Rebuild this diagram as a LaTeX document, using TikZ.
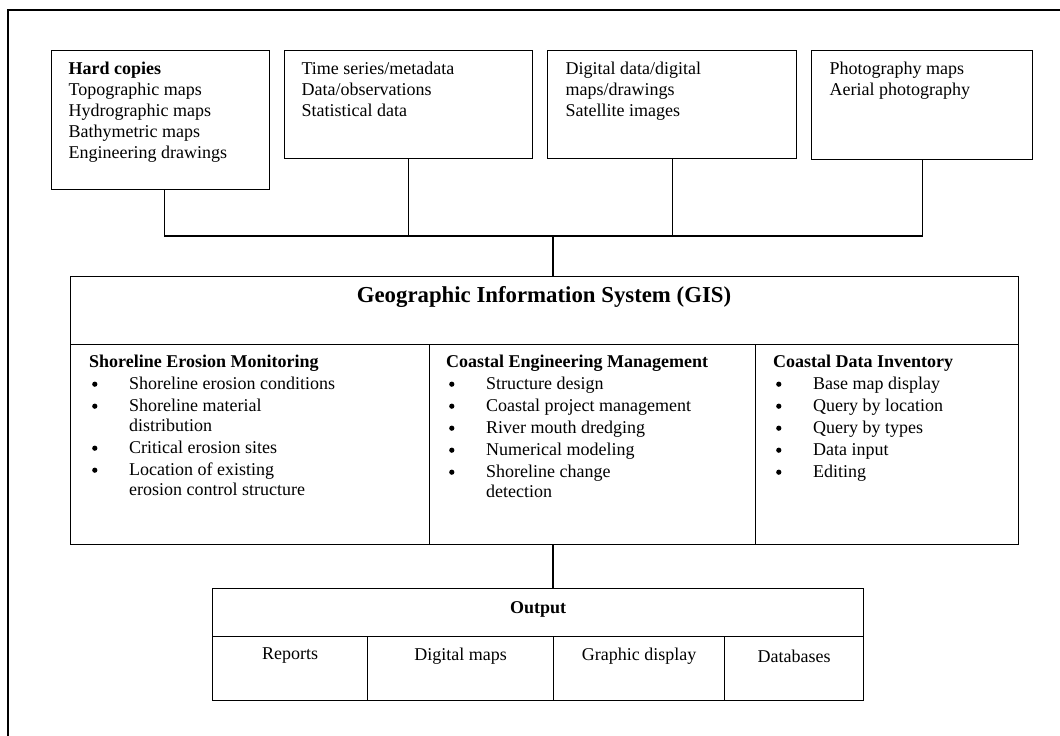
\documentclass[tikz,border=0pt]{standalone}
\usepackage{fontspec}
\setmainfont{Liberation Serif}
\usetikzlibrary{positioning,calc}
\newcommand{\bul}{\hspace*{3pt}\makebox[37pt][l]{\tikz[baseline=0pt]\fill (2.7pt,5.5pt) circle (2.6pt);}}
\newcommand{\ind}{\hspace*{40pt}}

\begin{document}
\begin{tikzpicture}[x=1pt,y=-1pt,line width=1.1pt,
  box/.style={draw,anchor=north west,inner sep=0pt},
  txt/.style={anchor=north west,align=left,inner sep=0pt,font=\fontsize{18}{21}\selectfont},
  coltxt/.style={txt,font=\fontsize{18}{20}\selectfont},
  lbl/.style={inner sep=0pt,font=\fontsize{18}{21}\selectfont}]
\useasboundingbox (0,0) rectangle (1060,736);
% frame
\draw[line width=1.6pt] (8,736) -- (8,10) -- (1060,10);
% data sources
\node[box,minimum width=218pt,minimum height=139pt] (hard) at (51,50) {};
\node[box,minimum width=248pt,minimum height=108pt] (series) at (284,50) {};
\node[box,minimum width=249pt,minimum height=108pt] (digital) at (547,50) {};
\node[box,minimum width=221pt,minimum height=109pt] (photo) at (811,50) {};
\node[txt] at ([shift={(17,11)}]hard.north west) {\textbf{Hard copies}\\Topographic maps\\Hydrographic maps\\Bathymetric maps\\Engineering drawings};
\node[txt] at ([shift={(17,11)}]series.north west) {Time series/metadata\\Data/observations\\Statistical data};
\node[txt] at ([shift={(18,11)}]digital.north west) {Digital data/digital\\maps/drawings\\Satellite images};
\node[txt] at ([shift={(18,11)}]photo.north west) {Photography maps\\Aerial photography};
% GIS
\node[box,minimum width=948pt,minimum height=68pt] (gis) at (70,276) {};
\node[lbl,font=\fontsize{22.8}{26}\selectfont\bfseries] at (544,297) {Geographic Information System (GIS)};
\node[box,minimum width=359pt,minimum height=200pt] (shore) at (70,344) {};
\node[box,minimum width=326pt,minimum height=200pt] (eng) at (429,344) {};
\node[box,minimum width=263pt,minimum height=200pt] (inv) at (755,344) {};
\node[coltxt] at ([shift={(19,11)}]shore.north west) {\textbf{Shoreline Erosion Monitoring}\\[2pt]
  \bul Shoreline erosion conditions\\[2pt]
  \bul Shoreline material\\\ind distribution\\[2pt]
  \bul Critical erosion sites\\[2pt]
  \bul Location of existing\\\ind erosion control structure};
\node[coltxt] at ([shift={(17,11)}]eng.north west) {\textbf{Coastal Engineering Management}\\[2pt]
  \bul Structure design\\[2pt]
  \bul Coastal project management\\[2pt]
  \bul River mouth dredging\\[2pt]
  \bul Numerical modeling\\[2pt]
  \bul Shoreline change\\\ind detection};
\node[coltxt] at ([shift={(18,11)}]inv.north west) {\textbf{Coastal Data Inventory}\\[2pt]
  \bul Base map display\\[2pt]
  \bul Query by location\\[2pt]
  \bul Query by types\\[2pt]
  \bul Data input\\[2pt]
  \bul Editing};
% Output
\node[box,minimum width=651pt,minimum height=48pt] (out) at (212,588) {};
\node[lbl,font=\fontsize{18}{21}\selectfont\bfseries] at ([yshift=3pt]out.center) {Output};
\node[box,minimum width=155pt,minimum height=64pt] (rep) at (212,636) {};
\node[box,minimum width=186pt,minimum height=64pt] (dmap) at (367,636) {};
\node[box,minimum width=171pt,minimum height=64pt] (gdisp) at (553,636) {};
\node[box,minimum width=139pt,minimum height=64pt] (dbase) at (724,636) {};
\node[lbl,anchor=north] at ([yshift=-11pt]rep.north) {Reports};
\node[lbl,anchor=north] at ([yshift=-11pt]dmap.north) {Digital maps};
\node[lbl,anchor=north] at ([yshift=-11pt]gdisp.north) {Graphic display};
\node[lbl,anchor=north] at ([yshift=-13pt]dbase.north) {Databases};
% connectors
\coordinate (bus) at (553,236);
\draw ([xshift=4pt]hard.south) |- (photo.south |- bus) -- (photo.south);
\draw (series.south) -- (series.south |- bus);
\draw (digital.south) -- (digital.south |- bus);
\draw (bus) -- (bus |- gis.north);
\draw (bus |- eng.south) -- (bus |- out.north);
\end{tikzpicture}
\end{document}
